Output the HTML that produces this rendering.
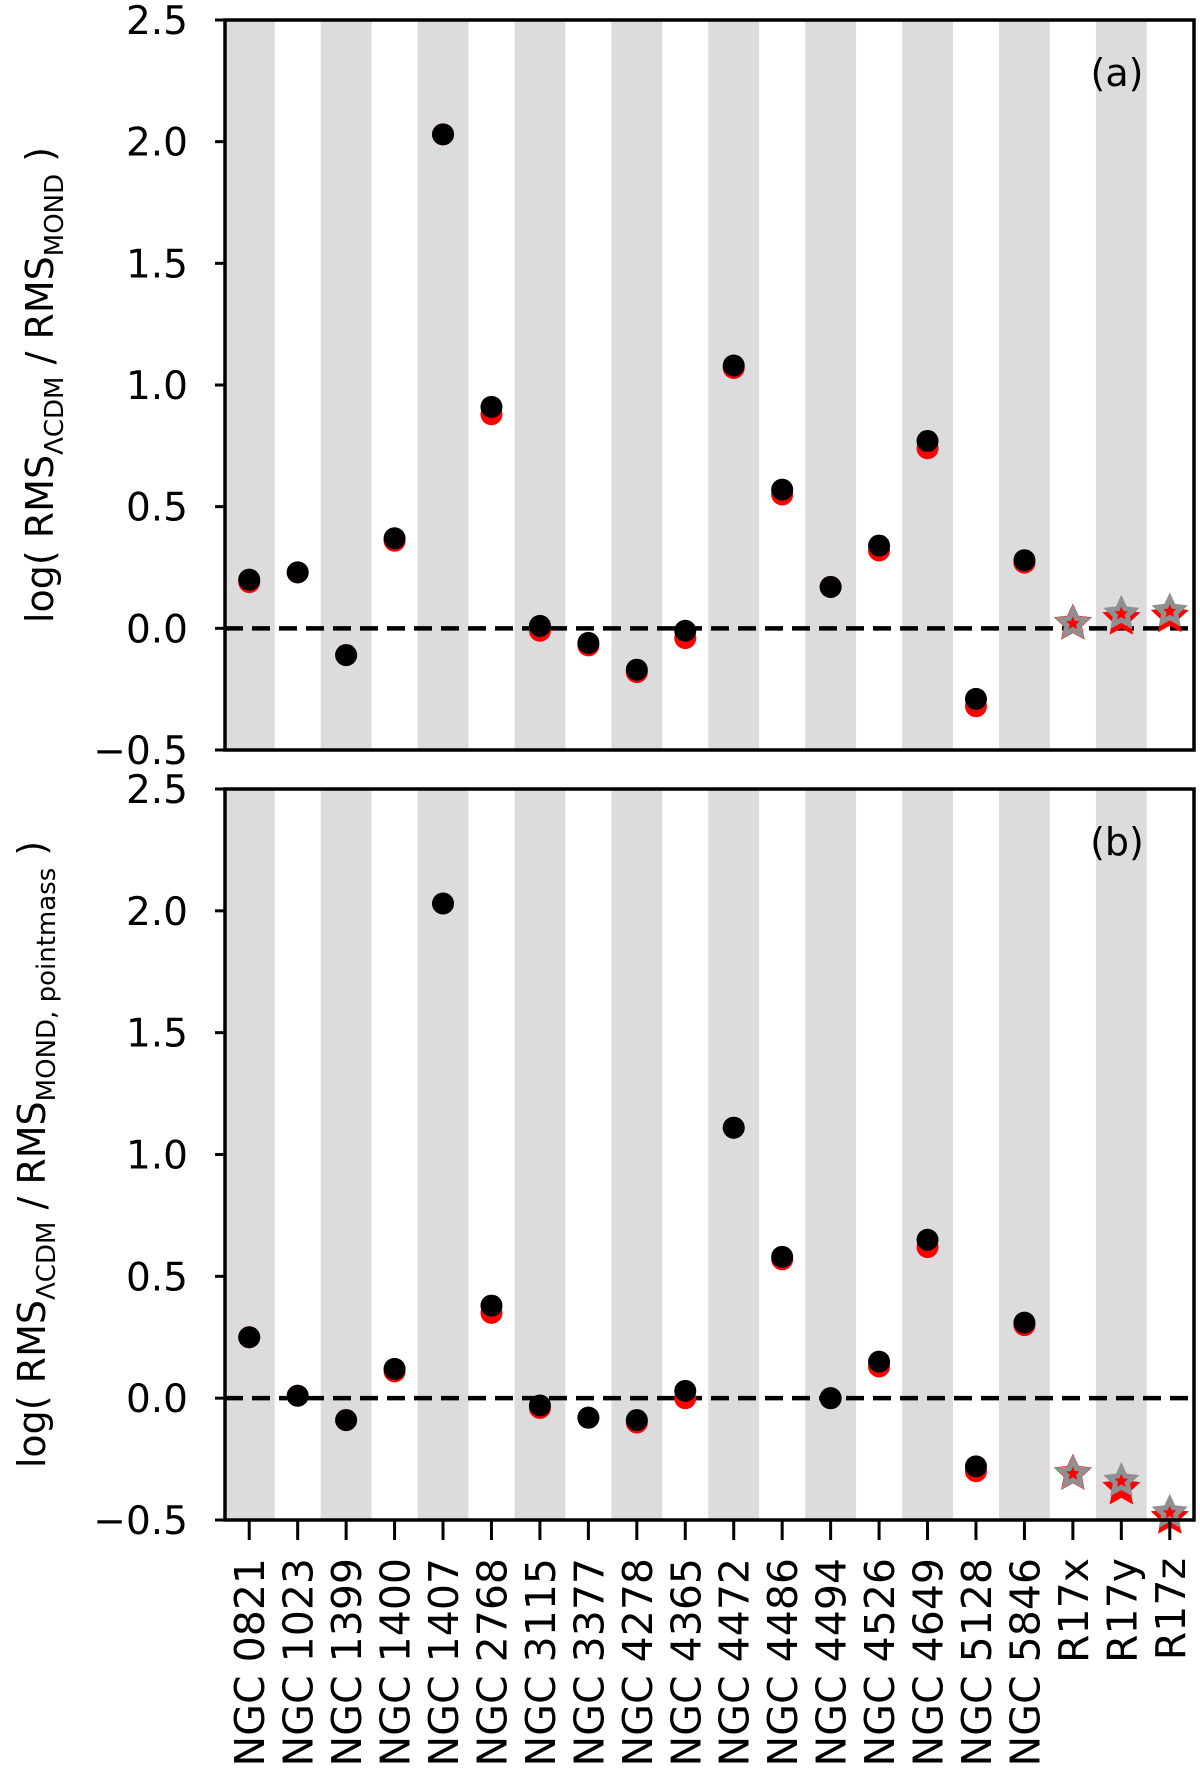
<!DOCTYPE html>
<html><head><meta charset="utf-8"><style>body{margin:0;background:#fff}svg{display:block}text{font-family:"DejaVu Sans","Liberation Sans",sans-serif}</style></head>
<body>
<svg id="chart" width="1200" height="1769" xmlns="http://www.w3.org/2000/svg"></svg>
<script>
const categories=["NGC 0821","NGC 1023","NGC 1399","NGC 1400","NGC 1407","NGC 2768","NGC 3115","NGC 3377","NGC 4278","NGC 4365","NGC 4472","NGC 4486","NGC 4494","NGC 4526","NGC 4649","NGC 5128","NGC 5846","R17x","R17y","R17z"];
const aBlack=[0.20,0.23,-0.11,0.37,2.03,0.91,0.01,-0.06,-0.17,-0.01,1.08,0.57,0.17,0.34,0.77,-0.29,0.28,0.02,0.06,0.07];
const aRed=[0.19,0.23,-0.11,0.36,2.03,0.88,-0.01,-0.07,-0.18,-0.04,1.07,0.55,0.17,0.32,0.74,-0.32,0.27,0.02,0.04,0.05];
const bBlack=[0.25,0.01,-0.09,0.12,2.03,0.38,-0.03,-0.08,-0.09,0.03,1.11,0.58,0.00,0.15,0.65,-0.28,0.31,-0.31,-0.34,-0.47];
const bRed=[0.25,0.01,-0.09,0.11,2.03,0.35,-0.04,-0.08,-0.10,0.00,1.11,0.57,0.00,0.13,0.62,-0.30,0.30,-0.31,-0.37,-0.49];
const yTicks=[-0.5,0.0,0.5,1.0,1.5,2.0,2.5];
const yTickLabels=["\u22120.5","0.0","0.5","1.0","1.5","2.0","2.5"];
const NS="http://www.w3.org/2000/svg";
const svg=document.getElementById('chart');
const L=225,R=1194;
function xs(i){return L+(i+0.5)*(R-L)/20;}
function mk(tag,attrs,parent){const e=document.createElementNS(NS,tag);for(const k in attrs)e.setAttribute(k,attrs[k]);(parent||svg).appendChild(e);return e;}
function star(cx,cy,r){let p=[];for(let k=0;k<10;k++){const a=-Math.PI/2+k*Math.PI/5;const rr=k%2?r*0.48:r;p.push((cx+rr*Math.cos(a)).toFixed(1)+','+(cy+rr*Math.sin(a)).toFixed(1));}return p.join(' ');}
function panel(top,bot,black,red,tag,labelSub2,showX){
  const ys=v=>bot-(v+0.5)/3*(bot-top);
  const g=mk('g',{});
  
  
  for(let i=0;i<20;i+=2){const x0=Math.max(L,xs(i)-0.525*(R-L)/20),x1=xs(i)+0.525*(R-L)/20;
    const b=mk('rect',{x:x0,y:top,width:x1-x0,height:bot-top,fill:'#dcdcdc'},g);
    
    }
  const z=mk('line',{x1:L,x2:R,y1:ys(0),y2:ys(0),stroke:'#000','stroke-width':4.5,'stroke-dasharray':'18 9'},g);
  
  
  for(let i=0;i<20;i++){
    if(i<17){
      const c1=mk('circle',{cx:xs(i),cy:ys(red[i]),r:11,fill:'#f00'},g);
      
      
      const c2=mk('circle',{cx:xs(i),cy:ys(black[i]),r:11,fill:'#000'},g);
      
      
    } else {
      const s1=mk('polygon',{points:star(xs(i),ys(red[i]),20),fill:'#f00'},g);
      
      
      const s2=mk('polygon',{points:star(xs(i),ys(black[i]),19),fill:'#909090'},g);
      
      
      const s3=mk('polygon',{points:star(xs(i),ys(black[i]),7),fill:'#f00'},g);
      
      
    }
  }
  const fr=mk('rect',{x:L,y:top,width:R-L,height:bot-top,fill:'none',stroke:'#000','stroke-width':3.5},g);
  
  
  yTicks.forEach((t,k)=>{const y=ys(t);
    mk('line',{x1:L-10,x2:L,y1:y,y2:y,stroke:'#000','stroke-width':3},g);
    const tx=mk('text',{x:L-37,y:y+14,'font-size':39,'text-anchor':'end'},g);tx.textContent=yTickLabels[k];
    
    });
  for(let i=0;i<20;i++){mk('line',{x1:xs(i),x2:xs(i),y1:bot,y2:bot+(showX?20:0),stroke:'#000','stroke-width':3},g);
    if(showX){const tx=mk('text',{transform:`translate(${xs(i)+15},${bot+38}) rotate(-90)`,'font-size':41,'text-anchor':'end'},g);tx.textContent=categories[i];
      
      }}
  const lt=mk('text',{x:1117,y:top+66,'font-size':38,'text-anchor':'middle'},g);lt.textContent='('+tag+')';
  
  
  const yl=mk('text',{transform:`translate(${tag=='a'?53:45},${(top+bot)/2}) rotate(-90)`,'font-size':38,'text-anchor':'middle'},g);
  
  
  yl.innerHTML='log( RMS<tspan font-size="26" dy="10">\u039bCDM</tspan><tspan dy="-10"> / RMS</tspan><tspan font-size="26" dy="10">'+labelSub2+'</tspan><tspan dy="-10"> )</tspan>';
}
panel(20,750,aBlack,aRed,'a','MOND',false);
panel(789,1520,bBlack,bRed,'b','MOND, pointmass',true);
</script>
</body></html>
